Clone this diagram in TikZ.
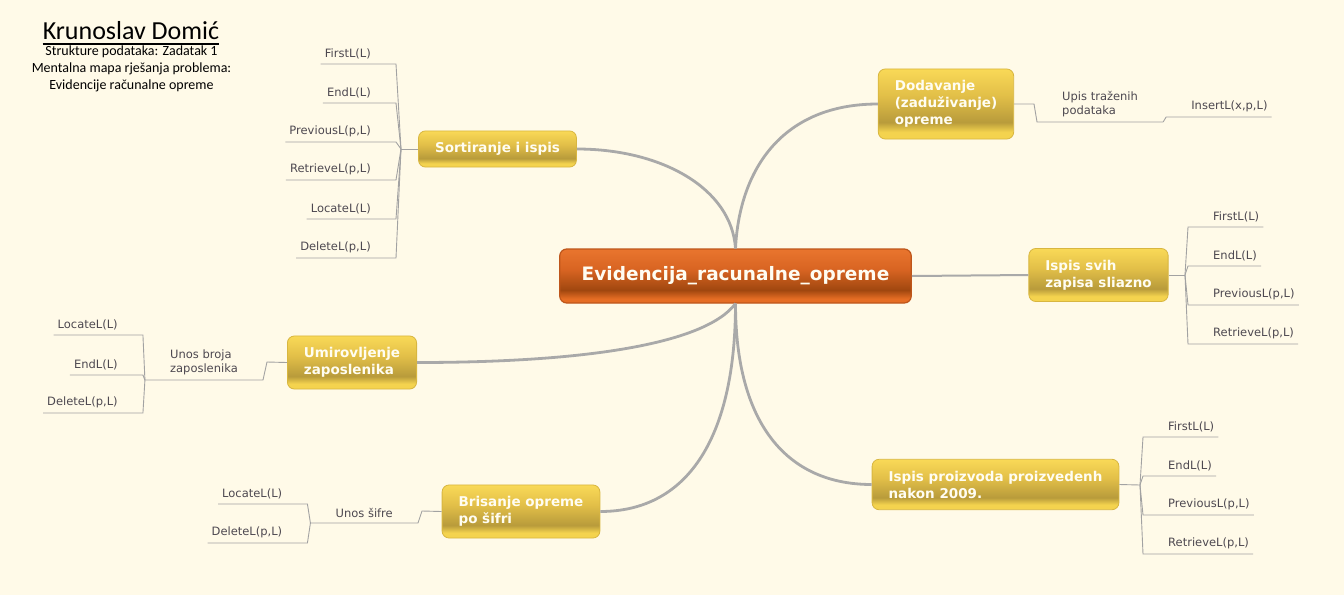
\documentclass[tikz,border=0pt]{standalone}
\usepackage{fontspec}
\setmainfont{DejaVu Sans}
\newfontfamily\titlefont{Carlito}
\usepackage{tikz}
\usetikzlibrary{positioning,calc}
\definecolor{bg}{HTML}{FFFAE8}
\definecolor{branchgray}{HTML}{A9A9A9}
\definecolor{twiggray}{HTML}{A2A2A2}
\definecolor{leaftext}{HTML}{4D4850}
\definecolor{ytop}{HTML}{F9D957}
\definecolor{ymid}{HTML}{E2BF48}
\definecolor{ydark}{HTML}{B89B3B}
\definecolor{yrim}{HTML}{F4D34E}
\definecolor{yborder}{HTML}{D8B640}
\definecolor{otop}{HTML}{E9752E}
\definecolor{omid}{HTML}{D86422}
\definecolor{odark}{HTML}{A0470F}
\definecolor{orim}{HTML}{E56D24}
\definecolor{oborder}{HTML}{BE561B}
\definecolor{boxtext}{HTML}{FFFDF2}
\pgfdeclareverticalshading{yshade}{100bp}{color(0bp)=(yrim); color(25bp)=(yrim); color(30bp)=(yrim); color(37bp)=(ydark); color(56bp)=(ymid); color(75bp)=(ytop); color(100bp)=(ytop)}
\pgfdeclareverticalshading{oshade}{100bp}{color(0bp)=(orim); color(25bp)=(orim); color(29bp)=(orim); color(37bp)=(odark); color(56bp)=(omid); color(75bp)=(otop); color(100bp)=(otop)}
\tikzstyle{root}=[draw=oborder, line width=1.2pt, rounded corners=7pt, shade, shading=oshade, text=boxtext, font=\bfseries\fontsize{18.5}{22}\selectfont, minimum height=54pt, inner xsep=22pt]
\tikzstyle{topic}=[draw=yborder, line width=0.8pt, rounded corners=7pt, shade, shading=yshade, text=boxtext, font=\bfseries\fontsize{13.5}{17}\selectfont, align=left, inner xsep=16.5pt, inner ysep=11.5pt]
\tikzstyle{leaf}=[text=leaftext, font=\fontsize{11.5}{13.5}\selectfont, inner xsep=4pt, inner ysep=5pt]
\tikzstyle{hub}=[leaf, align=left, inner xsep=25pt]
\tikzstyle{branch}=[draw=branchgray, line width=2.8pt]
\tikzstyle{twig}=[draw=twiggray, line width=0.9pt]

\begin{document}
\begin{tikzpicture}[x=1pt,y=-1pt]
\fill[bg] (0,0) rectangle (1344,595);
\useasboundingbox (0,0) rectangle (1344,595);

% title block
\node[inner sep=0pt, font=\titlefont\fontsize{26}{30}\selectfont] (ttl) at (131,31) {Krunoslav Domić};
\draw[line width=1.6pt] ($(ttl.base west)+(0,4)$) -- ($(ttl.base east)+(0,4)$);
\node[align=center, inner sep=0pt, font=\titlefont\fontsize{14}{17}\selectfont] (sub) at (131.5,69) {Strukture podataka: Zadatak 1\\Mentalna mapa rješanja problema:\\Evidencije računalne opreme};

% main nodes
\node[root] (root) at (735.5,276) {Evidencija\_racunalne\_opreme};
\node[topic] (sort) at (497.5,149) {Sortiranje i ispis};
\node[topic] (dod) at (946,104) {Dodavanje\\(zaduživanje)\\opreme};
\node[topic] (isv) at (1098.5,275) {Ispis svih\\zapisa sliazno};
\node[topic] (umi) at (352,362.5) {Umirovljenje\\zaposlenika};
\node[topic] (bris) at (521,511.5) {Brisanje opreme\\po šifri};
\node[topic] (ipro) at (995.5,484.5) {Ispis proizvoda proizvedenh\\nakon 2009.};

% branches
\draw[branch] (root.north) .. controls +(-4,-60) and +(85,0) .. (sort.east);
\draw[branch] (root.north) .. controls +(4,-80) and +(-95,0) .. (dod.west);
\draw[branch, line width=2pt] (root.east) -- (isv.west);
\draw[branch] (root.south) .. controls +(-30,40) and +(170,0) .. (umi.east);
\draw[branch] (root.south) .. controls +(0,130) and +(90,0) .. (bris.east);
\draw[branch] (root.south) .. controls +(0,120) and +(-85,0) .. (ipro.west);

% Sortiranje i ispis
\coordinate (sf) at (401,149);
\draw[twig] (sort.west) -- (sf);
\foreach \y/\t [count=\i] in {64/FirstL(L), 103/EndL(L), 142/{PreviousL(p,L)}, 180/{RetrieveL(p,L)}, 219/LocateL(L), 258/{DeleteL(p,L)}} {
  \coordinate (s\i) at (396,\y);
  \node[leaf, left=21pt of s\i, anchor=south east] (sl\i) {\t};
  \draw[twig] (sf) -- (s\i) -- (sl\i.south west);
}

% Dodavanje
\coordinate (df) at (1034,104);
\node[hub, anchor=south west] (upis) at (1037,122) {Upis traženih\\podataka};
\draw[twig] (dod.east) -- (df) -- (upis.south west) -- (upis.south east);
\coordinate (i1) at (upis.south east);
\coordinate (i1) at ($(i1)+(3,-5)$);
\node[leaf, right=21pt of i1, anchor=south west] (il1) {InsertL(x,p,L)};
\draw[twig] (upis.south east) -- (i1) -- (il1.south east);

% Ispis svih
\coordinate (vf) at (1185,275);
\draw[twig] (isv.east) -- (vf);
\foreach \y/\t [count=\i] in {227/FirstL(L), 266/EndL(L), 305/{PreviousL(p,L)}, 344/{RetrieveL(p,L)}} {
  \coordinate (v\i) at (1188,\y);
  \node[leaf, right=21pt of v\i, anchor=south west] (vl\i) {\t};
  \draw[twig] (vf) -- (v\i) -- (vl\i.south east);
}

% Umirovljenje
\coordinate (uf) at (267,362);
\node[hub, anchor=south east] (unos) at (263,380) {Unos broja\\zaposlenika};
\draw[twig] (umi.west) -- (uf) -- (unos.south east) -- (unos.south west);
\foreach \y/\t [count=\i] in {335/LocateL(L), 375/EndL(L), 413/{DeleteL(p,L)}} {
  \coordinate (u\i) at ($(unos.south west)+(-2,\y-380)$);
  \node[leaf, left=21pt of u\i, anchor=south east] (ul\i) {\t};
  \draw[twig] (unos.south west) -- (u\i) -- (ul\i.south west);
}

% Brisanje
\coordinate (bf) at (422,511);
\node[hub, anchor=south east] (usif) at (418,523) {Unos šifre};
\draw[twig] (bris.west) -- (bf) -- (usif.south east) -- (usif.south west);
\foreach \y/\t [count=\i] in {504/LocateL(L), 543/{DeleteL(p,L)}} {
  \coordinate (b\i) at ($(usif.south west)+(-3,\y-523)$);
  \node[leaf, left=21pt of b\i, anchor=south east] (bl\i) {\t};
  \draw[twig] (usif.south west) -- (b\i) -- (bl\i.south west);
}

% Ispis proizvoda
\coordinate (pf) at (1140,485);
\draw[twig] (ipro.east) -- (pf);
\foreach \y/\t [count=\i] in {437/FirstL(L), 476/EndL(L), 515/{PreviousL(p,L)}, 554/{RetrieveL(p,L)}} {
  \coordinate (p\i) at (1143,\y);
  \node[leaf, right=21pt of p\i, anchor=south west] (pl\i) {\t};
  \draw[twig] (pf) -- (p\i) -- (pl\i.south east);
}
\end{tikzpicture}
\end{document}
